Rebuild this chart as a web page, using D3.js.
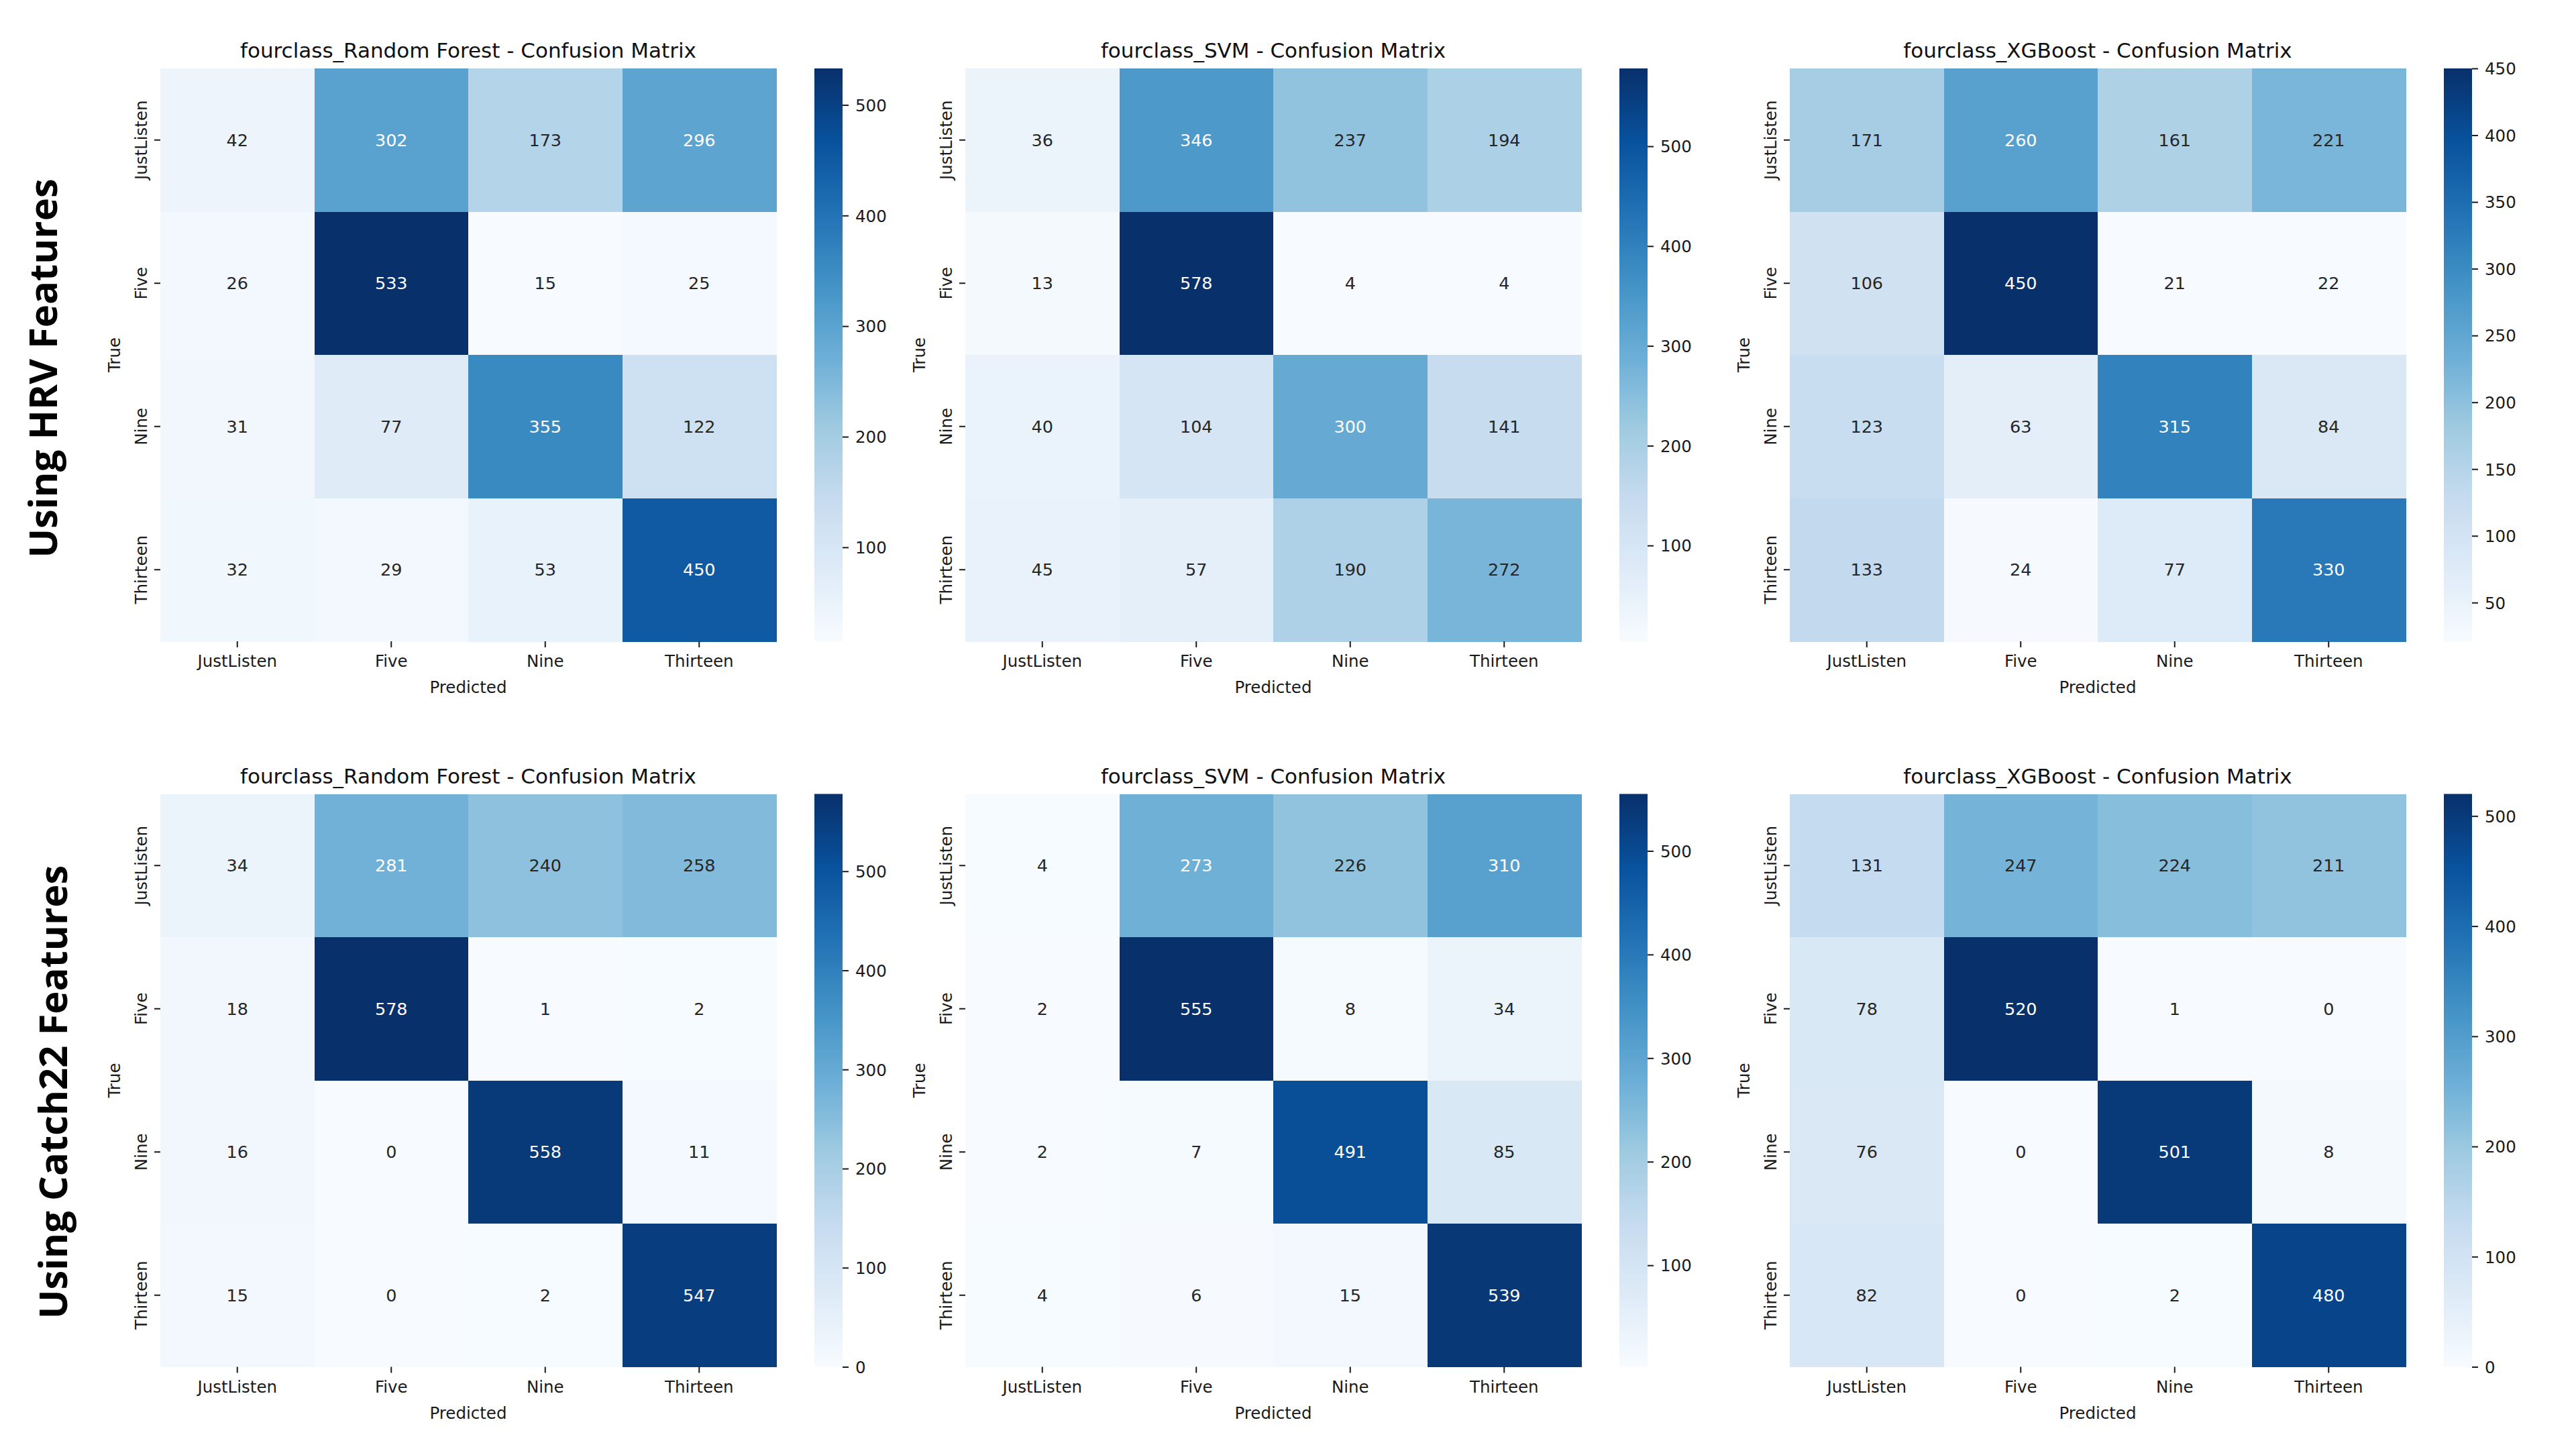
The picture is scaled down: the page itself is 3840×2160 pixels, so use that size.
<!DOCTYPE html>
<html>
<head>
<meta charset="utf-8">
<script src="https://cdn.jsdelivr.net/npm/d3@7/dist/d3.min.js"></script>
<style>
  html, body { margin: 0; padding: 0; background: #ffffff; }
  svg { display: block; }
</style>
</head>
<body>
<svg id="chart" width="3840" height="2160"></svg>
<script>
// ---------------- DATA ----------------
const classes = ["JustListen", "Five", "Nine", "Thirteen"];
const models = ["Random Forest", "SVM", "XGBoost"];
const featureSets = ["Using HRV Features", "Using Catch22 Features"];

// rows = True class, columns = Predicted class
const hrvRandomForest = [[42, 302, 173, 296], [26, 533, 15, 25], [31, 77, 355, 122], [32, 29, 53, 450]];
const hrvSVM          = [[36, 346, 237, 194], [13, 578, 4, 4], [40, 104, 300, 141], [45, 57, 190, 272]];
const hrvXGBoost      = [[171, 260, 161, 221], [106, 450, 21, 22], [123, 63, 315, 84], [133, 24, 77, 330]];
const c22RandomForest = [[34, 281, 240, 258], [18, 578, 1, 2], [16, 0, 558, 11], [15, 0, 2, 547]];
const c22SVM          = [[4, 273, 226, 310], [2, 555, 8, 34], [2, 7, 491, 85], [4, 6, 15, 539]];
const c22XGBoost      = [[131, 247, 224, 211], [78, 520, 1, 0], [76, 0, 501, 8], [82, 0, 2, 480]];

// colorbar tick labels per panel
const ticksHrvRF  = [100, 200, 300, 400, 500];
const ticksHrvSVM = [100, 200, 300, 400, 500];
const ticksHrvXGB = [50, 100, 150, 200, 250, 300, 350, 400, 450];
const ticksC22RF  = [0, 100, 200, 300, 400, 500];
const ticksC22SVM = [100, 200, 300, 400, 500];
const ticksC22XGB = [0, 100, 200, 300, 400, 500];

// matplotlib "Blues" anchor colours
const blues9 = ["#f7fbff", "#deebf7", "#c6dbef", "#9ecae1", "#6baed6", "#4292c6", "#2171b5", "#08519c", "#08306b"];

const matrices = [[hrvRandomForest, hrvSVM, hrvXGBoost], [c22RandomForest, c22SVM, c22XGBoost]];
const tickSets = [[ticksHrvRF, ticksHrvSVM, ticksHrvXGB], [ticksC22RF, ticksC22SVM, ticksC22XGB]];

// ---------------- LAYOUT ----------------
const colX = [239, 1439, 2668];
const rowY = [102, 1183.5];
const W = 918, H = 854;
const cbOffset = 975, cbW = 42;
const labelFont = "'DejaVu Sans', sans-serif";
const rowLabelPos = [{x: 85, y: 549}, {x: 100, y: 1628}];

const svg = d3.select("#chart");

function relLum(col) {
  const c = d3.rgb(col);
  const f = v => { v = v / 255; return v <= 0.03928 ? v / 12.92 : Math.pow((v + 0.055) / 1.055, 2.4); };
  return 0.2126 * f(c.r) + 0.7152 * f(c.g) + 0.0722 * f(c.b);
}

let gradId = 0;
matrices.forEach((row, ri) => {
  row.forEach((mat, ci) => {
    const x0 = colX[ci], y0 = rowY[ri];
    const g = svg.append("g").attr("transform", `translate(${x0},${y0})`);
    const flat = mat.flat();
    const vmin = d3.min(flat), vmax = d3.max(flat);
    const color = d3.scaleLinear()
      .domain(blues9.map((_, i) => vmin + (vmax - vmin) * i / (blues9.length - 1)))
      .range(blues9)
      .interpolate(d3.interpolateRgb)
      .clamp(true);

    const x = d3.scaleBand().domain(classes).range([0, W]);
    const y = d3.scaleBand().domain(classes).range([0, H]);

    const cells = [];
    mat.forEach((r, i) => r.forEach((v, j) => cells.push({t: classes[i], p: classes[j], v})));

    g.selectAll("rect.cell").data(cells).join("rect")
      .attr("class", "cell")
      .attr("x", d => x(d.p)).attr("y", d => y(d.t))
      .attr("width", x.bandwidth() + 0.5).attr("height", y.bandwidth() + 0.5)
      .attr("fill", d => color(d.v))
      .attr("shape-rendering", "crispEdges");

    g.selectAll("text.annot").data(cells).join("text")
      .attr("class", "annot")
      .attr("x", d => x(d.p) + x.bandwidth() / 2)
      .attr("y", d => y(d.t) + y.bandwidth() / 2)
      .attr("dy", "0.36em")
      .attr("text-anchor", "middle")
      .attr("font-family", labelFont)
      .attr("font-size", 25.5)
      .attr("fill", d => relLum(color(d.v)) > 0.408 ? "#262626" : "#ffffff")
      .text(d => d.v);

    // x axis
    const xa = g.append("g").attr("transform", `translate(0,${H})`)
      .call(d3.axisBottom(x).tickSize(9).tickPadding(12));
    xa.select(".domain").remove();
    xa.selectAll("text").attr("font-family", labelFont).attr("font-size", 24.5).attr("fill", "#1a1a1a");
    xa.selectAll("line").attr("stroke", "#1a1a1a").attr("stroke-width", 2);

    // y axis
    const ya = g.append("g").call(d3.axisLeft(y).tickSize(9));
    ya.select(".domain").remove();
    ya.selectAll("line").attr("stroke", "#1a1a1a").attr("stroke-width", 2);
    ya.selectAll("text")
      .attr("x", 0).attr("dy", 0)
      .attr("transform", "translate(-20,0) rotate(-90)")
      .attr("text-anchor", "middle")
      .attr("font-family", labelFont).attr("font-size", 24.5).attr("fill", "#1a1a1a");

    // title
    g.append("text")
      .attr("x", W / 2).attr("y", -16)
      .attr("text-anchor", "middle")
      .attr("font-family", labelFont).attr("font-size", 31).attr("fill", "#111")
      .text(`fourclass_${models[ci]} - Confusion Matrix`);

    // axis labels
    g.append("text")
      .attr("x", W / 2).attr("y", H + 77)
      .attr("text-anchor", "middle")
      .attr("font-family", labelFont).attr("font-size", 24.5).attr("fill", "#1a1a1a")
      .text("Predicted");
    g.append("text")
      .attr("transform", `translate(-60,${H / 2}) rotate(-90)`)
      .attr("text-anchor", "middle")
      .attr("font-family", labelFont).attr("font-size", 24.5).attr("fill", "#1a1a1a")
      .text("True");

    // colorbar
    const id = "grad" + (gradId++);
    const grad = svg.append("defs").append("linearGradient")
      .attr("id", id).attr("x1", 0).attr("y1", 1).attr("x2", 0).attr("y2", 0);
    grad.selectAll("stop").data(blues9).join("stop")
      .attr("offset", (d, i) => i / (blues9.length - 1))
      .attr("stop-color", d => d);
    const cb = g.append("g").attr("transform", `translate(${cbOffset},0)`);
    cb.append("rect").attr("width", cbW).attr("height", H).attr("fill", `url(#${id})`);
    const cbScale = d3.scaleLinear().domain([vmin, vmax]).range([H, 0]);
    const cba = cb.append("g").attr("transform", `translate(${cbW},0)`)
      .call(d3.axisRight(cbScale).tickValues(tickSets[ri][ci]).tickSize(9).tickPadding(10).tickFormat(d3.format("d")));
    cba.select(".domain").remove();
    cba.selectAll("line").attr("stroke", "#1a1a1a").attr("stroke-width", 2);
    cba.selectAll("text").attr("dy", "0.36em")
      .attr("font-family", labelFont).attr("font-size", 24.5).attr("fill", "#1a1a1a");
  });
});

// row labels
svg.selectAll("text.rowlabel").data(featureSets).join("text")
  .attr("class", "rowlabel")
  .attr("transform", (d, i) => `translate(${rowLabelPos[i].x},${rowLabelPos[i].y}) rotate(-90)`)
  .attr("text-anchor", "middle")
  .attr("font-family", "'Open Sans', 'Noto Sans', sans-serif")
  .attr("font-weight", 700)
  .attr("font-size", 58)
  .attr("fill", "#000")
  .text(d => d);
</script>
</body>
</html>
